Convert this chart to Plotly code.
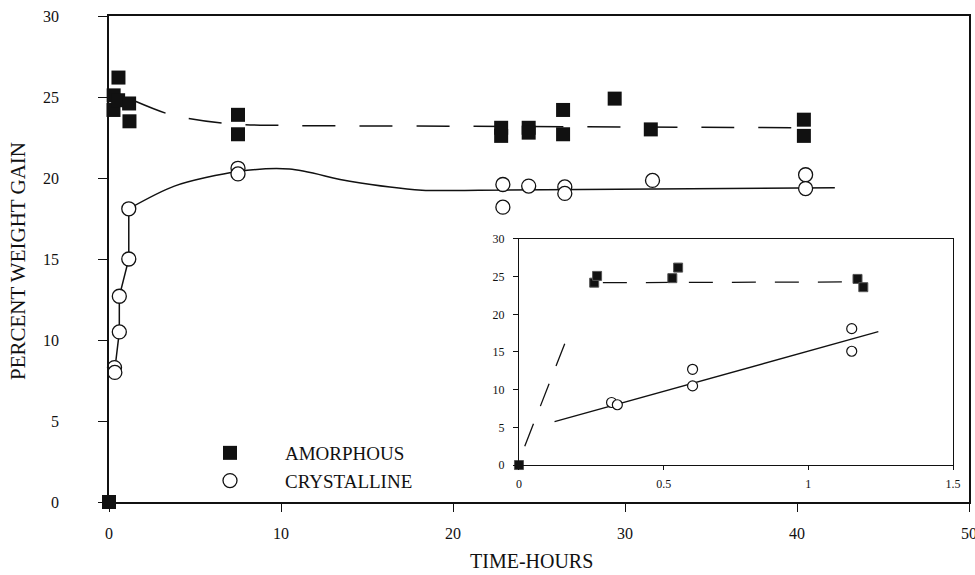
import plotly.graph_objects as go

# ---------------- data ----------------
# main panel: amorphous (filled squares)
amorph_t = [0, 0.26, 0.27, 0.53, 0.55, 1.17, 1.19, 7.5, 7.5, 22.8, 22.8, 24.4, 24.4,
            26.4, 26.4, 29.4, 31.5, 40.4, 40.4]
amorph_w = [0, 24.2, 25.1, 24.8, 26.2, 24.6, 23.5, 23.9, 22.7, 23.1, 22.6, 23.1, 22.8,
            24.2, 22.7, 24.9, 23.0, 23.6, 22.6]

# main panel: crystalline (open circles)
cryst_t = [0.32, 0.34, 0.6, 0.6, 1.15, 1.15, 7.5, 7.5, 22.9, 22.9, 24.4, 26.5, 26.5,
           31.6, 40.5, 40.5]
cryst_w = [8.3, 8.0, 12.7, 10.5, 18.1, 15.0, 20.6, 20.25, 19.6, 18.2, 19.5, 19.45, 19.05,
           19.85, 20.2, 19.35]

# fitted curves (main panel)
amorph_fit_t = [1.5, 3.3, 4.5, 7.0, 10, 20, 30, 40.4]
amorph_fit_w = [24.75, 24.0, 23.7, 23.35, 23.25, 23.2, 23.15, 23.1]

cryst_early_t = [0.33, 0.6, 0.6, 1.15, 1.15]
cryst_early_w = [8.1, 10.5, 12.7, 15.0, 18.1]
cryst_fit_t = [1.15, 3.8, 7.5, 10.5, 14, 18.2, 21.5, 42.2]
cryst_fit_w = [18.1, 19.5, 20.4, 20.55, 19.8, 19.25, 19.25, 19.4]

# inset (first 1.5 h)
in_amorph_t = [0, 0.26, 0.27, 0.53, 0.55, 1.17, 1.19]
in_amorph_w = [0, 24.2, 25.1, 24.8, 26.2, 24.7, 23.6]
in_cryst_t = [0.32, 0.34, 0.6, 0.6, 1.15, 1.15]
in_cryst_w = [8.3, 8.0, 12.7, 10.5, 18.1, 15.1]
in_amorph_rise_t = [0.02, 0.178]
in_amorph_rise_w = [2.5, 18.05]
in_amorph_flat_t = [0.29, 1.15]
in_amorph_flat_w = [24.2, 24.3]
in_cryst_fit_t = [0.123, 1.242]
in_cryst_fit_w = [5.75, 17.7]

main_xticks = [0, 10, 20, 30, 40, 50]
main_yticks = [0, 5, 10, 15, 20, 25, 30]
in_xticks = [0, 0.5, 1, 1.5]
in_xlabels = ["0", "0.5", "1", "1.5"]
in_yticks = [0, 5, 10, 15, 20, 25, 30]

SERIF = "Liberation Serif"
BLACK = "#111111"

fig = go.Figure()

# main curves
fig.add_trace(go.Scatter(x=amorph_fit_t, y=amorph_fit_w, mode="lines", line_shape="spline",
                         line=dict(color=BLACK, width=1.5, dash="33px,24px"),
                         showlegend=False, hoverinfo="skip"))
fig.add_trace(go.Scatter(x=cryst_early_t, y=cryst_early_w, mode="lines",
                         line=dict(color=BLACK, width=1.5), showlegend=False, hoverinfo="skip"))
fig.add_trace(go.Scatter(x=cryst_fit_t, y=cryst_fit_w, mode="lines", line_shape="spline",
                         line=dict(color=BLACK, width=1.5, smoothing=0.8),
                         showlegend=False, hoverinfo="skip"))

# main markers
fig.add_trace(go.Scatter(x=amorph_t, y=amorph_w, mode="markers", name="AMORPHOUS",
                         legendgroup="a", cliponaxis=False,
                         marker=dict(symbol="square", size=14, color=BLACK,
                                     line=dict(color=BLACK, width=0))))
fig.add_trace(go.Scatter(x=cryst_t, y=cryst_w, mode="markers", name="CRYSTALLINE",
                         legendgroup="c", cliponaxis=False,
                         marker=dict(symbol="circle", size=14, color="white",
                                     line=dict(color=BLACK, width=1.3))))

# inset curves and markers
for tx, wy in ((in_amorph_rise_t, in_amorph_rise_w), (in_amorph_flat_t, in_amorph_flat_w)):
    fig.add_trace(go.Scatter(x=tx, y=wy, mode="lines", xaxis="x2", yaxis="y2",
                             line=dict(color=BLACK, width=1.3, dash="24px,19px"),
                             showlegend=False, hoverinfo="skip"))
fig.add_trace(go.Scatter(x=in_cryst_fit_t, y=in_cryst_fit_w, mode="lines", xaxis="x2", yaxis="y2",
                         line=dict(color=BLACK, width=1.3), showlegend=False, hoverinfo="skip"))
fig.add_trace(go.Scatter(x=in_amorph_t, y=in_amorph_w, mode="markers", xaxis="x2", yaxis="y2",
                         cliponaxis=False, showlegend=False,
                         marker=dict(symbol="square", size=9, color=BLACK,
                                     line=dict(color="#555555", width=1))))
fig.add_trace(go.Scatter(x=in_cryst_t, y=in_cryst_w, mode="markers", xaxis="x2", yaxis="y2",
                         cliponaxis=False, showlegend=False,
                         marker=dict(symbol="circle", size=10, color="white",
                                     line=dict(color=BLACK, width=1.2))))

axis_common = dict(showgrid=False, zeroline=False, showline=True, mirror=True,
                   linecolor=BLACK, ticks="outside", tickcolor=BLACK)

fig.update_layout(
    width=975, height=575,
    margin=dict(l=109, r=6, t=16, b=73, autoexpand=False),
    paper_bgcolor="white", plot_bgcolor="white",
    font=dict(family=SERIF, color=BLACK, size=16),
    xaxis=dict(range=[0, 50], tickvals=main_xticks, ticklen=8, linewidth=1.6,
               ticklabelstandoff=8, ticklabeloverflow="allow",
               tickfont=dict(family=SERIF, size=16), **axis_common),
    yaxis=dict(range=[0, 30], tickvals=main_yticks, ticklen=9, linewidth=1.6,
               ticklabelstandoff=36, tickfont=dict(family=SERIF, size=16),
               **axis_common),
    xaxis2=dict(domain=[0.4767, 0.9814], anchor="y2", range=[0, 1.5], tickvals=in_xticks,
                ticktext=in_xlabels, ticklen=4, linewidth=1.1, ticklabelstandoff=4,
                tickfont=dict(family=SERIF, size=12), **axis_common),
    yaxis2=dict(domain=[0.0761, 0.5412], anchor="x2", range=[0, 30], tickvals=in_yticks,
                ticklen=5, linewidth=1.1, ticklabelstandoff=6,
                tickfont=dict(family=SERIF, size=12), **axis_common),
    legend=dict(x=(175 - 109) / 860, y=(502 - 434) / 486, xanchor="left", yanchor="top",
                bgcolor="rgba(0,0,0,0)", font=dict(family=SERIF, size=19, color=BLACK),
                itemwidth=100, tracegroupgap=1, traceorder="normal"),
    annotations=[
        dict(text="PERCENT WEIGHT GAIN", xref="paper", yref="paper",
             x=(18 - 109) / 860, y=(502 - 261) / 486, textangle=-90, showarrow=False,
             font=dict(family=SERIF, size=21, color=BLACK), xanchor="center", yanchor="middle"),
        dict(text="TIME-HOURS", xref="paper", yref="paper",
             x=(531 - 109) / 860, y=(502 - 561) / 486, showarrow=False,
             font=dict(family=SERIF, size=20, color=BLACK), xanchor="center", yanchor="middle"),
    ],
)

fig.write_html("out.html")
